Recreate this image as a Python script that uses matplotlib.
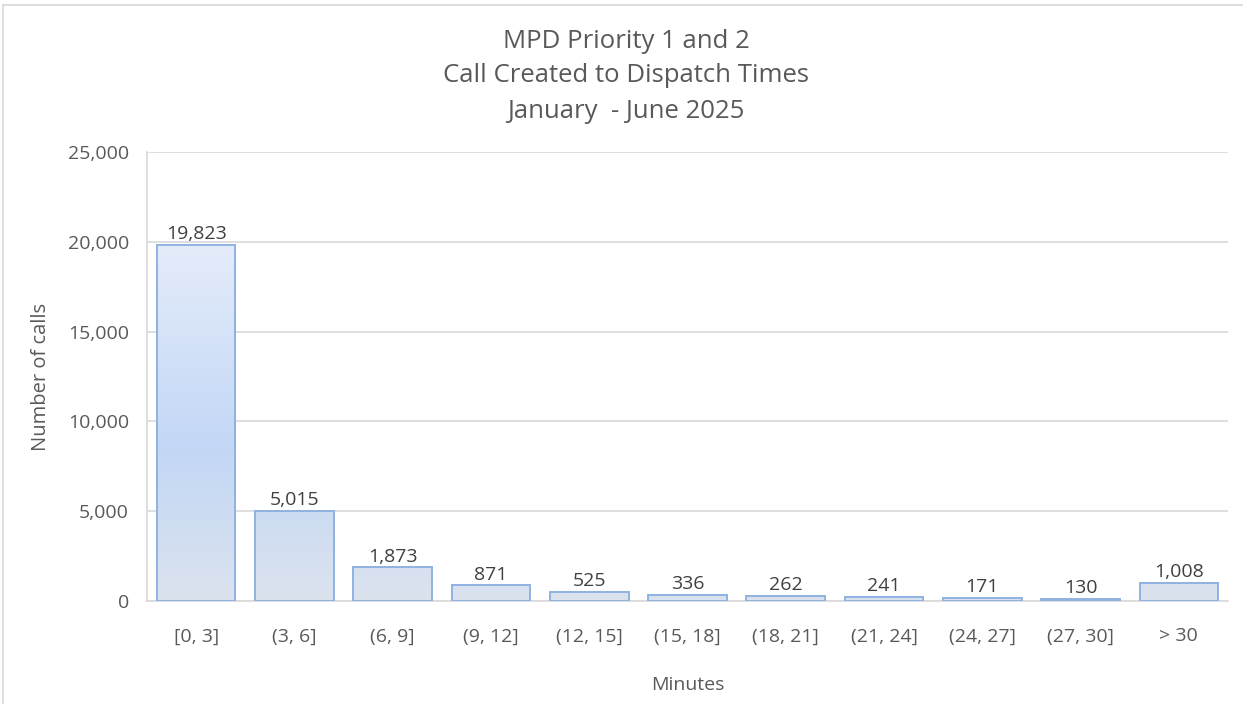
import numpy as np
import matplotlib.pyplot as plt
from matplotlib.colors import LinearSegmentedColormap
from matplotlib.lines import Line2D

plt.rcParams['font.family'] = ['Open Sans', 'DejaVu Sans']

categories = ['[0, 3]', '(3, 6]', '(6, 9]', '(9, 12]', '(12, 15]', '(15, 18]',
              '(18, 21]', '(21, 24]', '(24, 27]', '(27, 30]', '> 30']
calls = [19823, 5015, 1873, 871, 525, 336, 262, 241, 171, 130, 1008]
yticks = [0, 5000, 10000, 15000, 20000, 25000]

fig = plt.figure(figsize=(12.43, 7.04), dpi=100)
ax = fig.add_axes([147 / 1243, 1 - 601 / 704, (1228 - 147) / 1243, (601 - 152) / 704])

x = np.arange(len(categories))
bars = ax.bar(x, calls, width=0.8, color='none', edgecolor='#8fb2e2', linewidth=1.4, zorder=3)

# vertical gradient clipped to each bar
cmap = LinearSegmentedColormap.from_list('g', [(0, '#dbe3ee'), (0.43, '#c3d7f6'), (1, '#e4ecfa')])
grad = np.linspace(0, 1, 256).reshape(-1, 1)
top = max(calls)
for b in bars:
    im = ax.imshow(grad, cmap=cmap, aspect='auto', origin='lower',
                   extent=(-0.5, len(categories) - 0.5, 0, top), zorder=2)
    im.set_clip_path(b)

ax.set_xlim(-0.5, len(categories) - 0.5)
ax.set_ylim(0, 25000)
ax.set_yticks(yticks)
ax.set_yticklabels([f'{v:,}' for v in yticks])
ax.set_xticks(x)
ax.set_xticklabels(categories)
ax.tick_params(length=0, labelsize=14, labelcolor='#595959')
ax.tick_params(axis='x', pad=19)
ax.tick_params(axis='y', pad=13)
ax.grid(axis='y', color='#d9d9d9', linewidth=1.2, zorder=0)
ax.set_axisbelow(True)
for s in ['top', 'right']:
    ax.spines[s].set_visible(False)
ax.spines['left'].set_color('#d9d9d9')
ax.spines['bottom'].set_color('#d9d9d9')
ax.spines['left'].set_linewidth(1.2)
ax.spines['bottom'].set_linewidth(1.2)

for xi, v in zip(x, calls):
    ax.text(xi, v + 100, f'{v:,}', ha='center', va='bottom', fontsize=14, color='#404040')

ax.set_ylabel('Number of calls', fontsize=14.5, color='#595959', labelpad=12)
ax.set_xlabel('Minutes', fontsize=14, color='#595959', labelpad=22)

fig.text(626 / 1243, 1 - 41 / 704, 'MPD Priority 1 and 2', ha='center', va='center', fontsize=18.5, color='#595959')
fig.text(626 / 1243, 1 - 76 / 704, 'Call Created to Dispatch Times', ha='center', va='center', fontsize=18.5, color='#595959')
fig.text(626 / 1243, 1 - 111 / 704, 'January  - June 2025', ha='center', va='center', fontsize=18.5, color='#595959')

# chart border (top and left visible)
fig.add_artist(Line2D([3 / 1243, 1], [1 - 5 / 704, 1 - 5 / 704], color='#d9d9d9', linewidth=1.2))
fig.add_artist(Line2D([3 / 1243, 3 / 1243], [0, 1 - 5 / 704], color='#d9d9d9', linewidth=1.2))

fig.savefig('out.png', dpi=100)
